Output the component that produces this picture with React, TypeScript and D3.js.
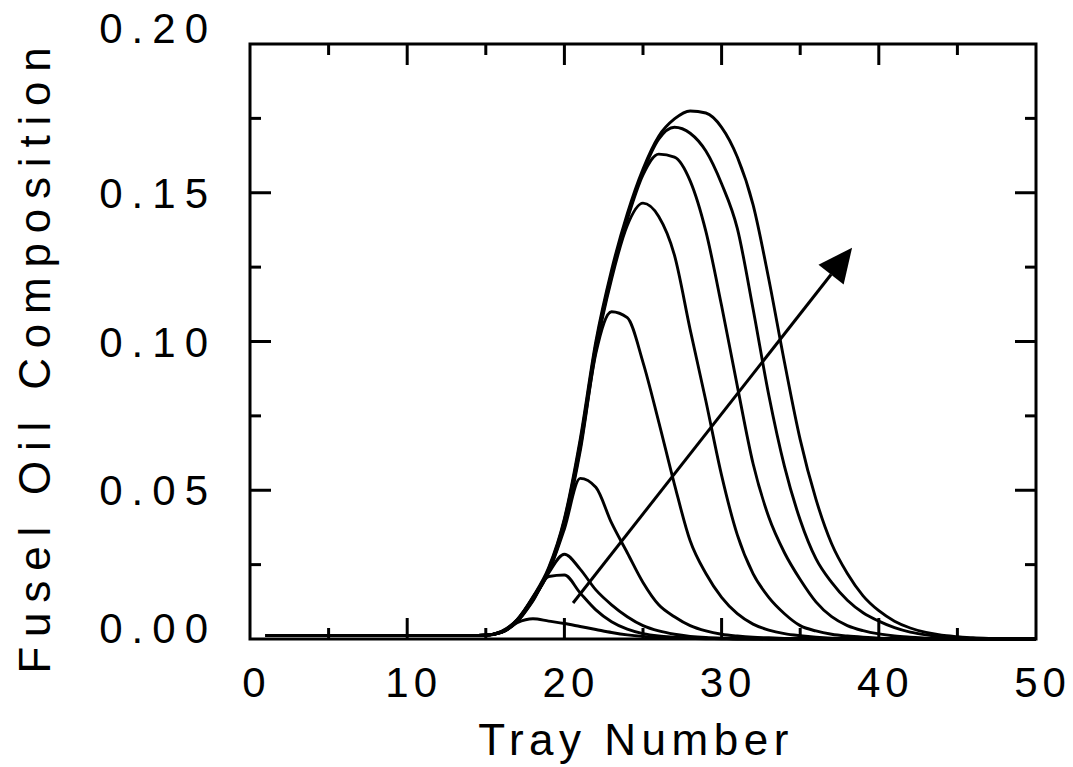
import React from "react";
import * as d3 from "d3";

// Tray numbers 1..50
const trays = d3.range(1, 51);

// Fusel oil composition profiles (trays 1..50), successive times
const c1 = [0.0012,0.0012,0.0012,0.0012,0.0012,0.0012,0.0012,0.0012,0.0012,0.0012,0.0012,0.0012,0.0012,0.0012,0.0013,
  0.0022,0.0055,0.0068,0.006,0.0052,0.0042,0.0032,0.0022,0.0014,0.0009,0.0006,0.0004,0.0002,0.0001,0.0001,
  0,0,0,0,0,0,0,0,0,0,0,0,0,0,0,0,0,0,0,0];
const c2 = [0.0012,0.0012,0.0012,0.0012,0.0012,0.0012,0.0012,0.0012,0.0012,0.0012,0.0012,0.0012,0.0012,0.0012,0.0013,
  0.0022,0.0058,0.0128,0.021,0.0215,0.0155,0.0098,0.0058,0.0033,0.0018,0.001,0.0006,0.0003,0.0002,0.0001,
  0,0,0,0,0,0,0,0,0,0,0,0,0,0,0,0,0,0,0,0];
const c3 = [0.0012,0.0012,0.0012,0.0012,0.0012,0.0012,0.0012,0.0012,0.0012,0.0012,0.0012,0.0012,0.0012,0.0012,0.0013,
  0.0022,0.006,0.013,0.0222,0.0285,0.0235,0.0165,0.0115,0.0075,0.0045,0.0027,0.0016,0.0009,0.0005,0.0003,
  0.0002,0.0001,0,0,0,0,0,0,0,0,0,0,0,0,0,0,0,0,0,0];
const c4 = [0.0012,0.0012,0.0012,0.0012,0.0012,0.0012,0.0012,0.0012,0.0012,0.0012,0.0012,0.0012,0.0012,0.0012,0.0013,
  0.0023,0.0061,0.0133,0.0225,0.037,0.054,0.051,0.039,0.029,0.019,0.0115,0.0075,0.0045,0.0027,0.0016,
  0.001,0.0006,0.0004,0.0002,0.0001,0,0,0,0,0,0,0,0,0,0,0,0,0,0,0];
const c5 = [0.0012,0.0012,0.0012,0.0012,0.0012,0.0012,0.0012,0.0012,0.0012,0.0012,0.0012,0.0012,0.0012,0.0012,0.0013,
  0.0023,0.0062,0.0135,0.0228,0.0385,0.063,0.096,0.11,0.108,0.093,0.073,0.052,0.033,0.022,0.014,
  0.0085,0.005,0.003,0.0018,0.0011,0.0006,0.0003,0.0002,0.0001,0,0,0,0,0,0,0,0,0,0,0];
const c6 = [0.0012,0.0012,0.0012,0.0012,0.0012,0.0012,0.0012,0.0012,0.0012,0.0012,0.0012,0.0012,0.0012,0.0012,0.0013,
  0.0024,0.0063,0.0137,0.023,0.039,0.064,0.097,0.121,0.139,0.1465,0.142,0.129,0.104,0.08,0.055,
  0.035,0.022,0.014,0.0085,0.0045,0.0027,0.0016,0.001,0.0006,0.0003,0.0002,0.0001,0,0,0,0,0,0,0,0];
const c7 = [0.0012,0.0012,0.0012,0.0012,0.0012,0.0012,0.0012,0.0012,0.0012,0.0012,0.0012,0.0012,0.0012,0.0012,0.0013,
  0.0024,0.0064,0.0139,0.0233,0.0395,0.065,0.098,0.122,0.141,0.156,0.163,0.162,0.154,0.137,0.112,
  0.085,0.059,0.041,0.029,0.02,0.0125,0.0075,0.0045,0.0028,0.0017,0.001,0.0006,0.0003,0.0002,0.0001,0,0,0,0,0];
const c8 = [0.0012,0.0012,0.0012,0.0012,0.0012,0.0012,0.0012,0.0012,0.0012,0.0012,0.0012,0.0012,0.0012,0.0012,0.0013,
  0.0025,0.0065,0.014,0.0236,0.04,0.066,0.099,0.123,0.142,0.157,0.168,0.172,0.17,0.164,0.153,
  0.138,0.111,0.082,0.058,0.04,0.027,0.019,0.013,0.0088,0.006,0.0038,0.0023,0.0014,0.0008,0.0004,0.0002,0.0001,0,0,0];
const c9 = [0.0012,0.0012,0.0012,0.0012,0.0012,0.0012,0.0012,0.0012,0.0012,0.0012,0.0012,0.0012,0.0012,0.0012,0.0013,
  0.0026,0.0066,0.0142,0.024,0.0405,0.067,0.1,0.124,0.143,0.158,0.169,0.1748,0.1775,0.1768,0.172,
  0.162,0.146,0.121,0.093,0.067,0.047,0.032,0.022,0.0145,0.0095,0.006,0.0037,0.0022,0.0013,0.0008,0.0004,0.0002,0.0001,0,0];

const series = [c1, c2, c3, c4, c5, c6, c7, c8, c9];

// Arrow (direction of increasing time): [tray, composition]
const arrowStart = [20.55, 0.0121];
const arrowEnd = [38.3, 0.1315];

// Axes
const xTickValues = [0, 10, 20, 30, 40, 50];
const xTickLabels = ["0", "10", "20", "30", "40", "50"];
const xMajor = [10, 20, 30, 40];
const xMinor = [5, 15, 25, 35, 45];
const yTickValues = [0, 0.05, 0.1, 0.15, 0.2];
const yTickLabels = ["0.00", "0.05", "0.10", "0.15", "0.20"];
const yMajor = [0.05, 0.1, 0.15];
const yMinor = [0.025, 0.075, 0.125, 0.175];

const xTitle = "Tray Number";
const yTitle = "Fusel Oil Composition";

export default function App() {
  const W = 1073, H = 767;
  const x = d3.scaleLinear().domain([0, 50]).range([250, 1036]);
  const y = d3.scaleLinear().domain([0, 0.2]).range([639, 44]);
  const [x0, x1] = x.range();
  const [y0, y1] = y.range();
  const line = d3
    .line<number>()
    .x((_, i) => x(trays[i]))
    .y((d) => y(d))
    .curve(d3.curveMonotoneX);

  const font = "'Liberation Sans', Arial, sans-serif";
  const majorLen = 21, minorLen = 11;

  // arrow geometry
  const ax0 = x(arrowStart[0]), ay0 = y(arrowStart[1]);
  const ax1 = x(arrowEnd[0]), ay1 = y(arrowEnd[1]);
  const len = Math.hypot(ax1 - ax0, ay1 - ay0);
  const ux = (ax1 - ax0) / len, uy = (ay1 - ay0) / len;
  const headL = 34, headW = 16;
  const bx = ax1 - ux * headL, by = ay1 - uy * headL;
  const head = `${ax1},${ay1} ${bx - uy * headW},${by + ux * headW} ${bx + uy * headW},${by - ux * headW}`;

  const yLabelDy = (v: number) => (v === 0.2 ? -1 : v === 0 ? 4 : 15);

  return (
    <svg
      width={W}
      height={H}
      style={{ position: "absolute", left: 0, top: 0, background: "#fff" }}
    >
      <rect x={0} y={0} width={W} height={H} fill="#fff" />
      {/* curves */}
      <g fill="none" stroke="#000" strokeWidth={2.9} strokeLinejoin="round">
        {series.map((s, i) => (
          <path key={i} d={line(s) || ""} />
        ))}
      </g>
      {/* arrow */}
      <line x1={ax0} y1={ay0} x2={bx} y2={by} stroke="#000" strokeWidth={3} />
      <polygon points={head} fill="#000" />
      {/* frame */}
      <rect x={x0} y={y1} width={x1 - x0} height={y0 - y1} fill="none" stroke="#000" strokeWidth={3} />
      {/* ticks */}
      <g stroke="#000" strokeWidth={3}>
        {xMajor.map((v) => (
          <g key={"xM" + v}>
            <line x1={x(v)} x2={x(v)} y1={y0} y2={y0 - majorLen} />
            <line x1={x(v)} x2={x(v)} y1={y1} y2={y1 + majorLen} />
          </g>
        ))}
        {xMinor.map((v) => (
          <g key={"xm" + v}>
            <line x1={x(v)} x2={x(v)} y1={y0} y2={y0 - minorLen} />
            <line x1={x(v)} x2={x(v)} y1={y1} y2={y1 + minorLen} />
          </g>
        ))}
        {yMajor.map((v) => (
          <g key={"yM" + v}>
            <line x1={x0} x2={x0 + majorLen} y1={y(v)} y2={y(v)} />
            <line x1={x1} x2={x1 - majorLen} y1={y(v)} y2={y(v)} />
          </g>
        ))}
        {yMinor.map((v) => (
          <g key={"ym" + v}>
            <line x1={x0} x2={x0 + minorLen} y1={y(v)} y2={y(v)} />
            <line x1={x1} x2={x1 - minorLen} y1={y(v)} y2={y(v)} />
          </g>
        ))}
      </g>
      {/* tick labels */}
      <g fontFamily={font} fontSize={42} fill="#000">
        {xTickValues.map((v, i) => (
          <text key={"xl" + v} x={x(v) + 4 + 2.5} y={697} textAnchor="middle" letterSpacing={5}>
            {xTickLabels[i]}
          </text>
        ))}
        {yTickValues.map((v, i) => (
          <text key={"yl" + v} x={208 + 9} y={y(v) + yLabelDy(v)} textAnchor="end" letterSpacing={9}>
            {yTickLabels[i]}
          </text>
        ))}
      </g>
      {/* titles */}
      <text
        x={636}
        y={755}
        textAnchor="middle"
        fontFamily={font}
        fontSize={44}
        letterSpacing={5.5}
      >
        {xTitle}
      </text>
      <text
        transform={`translate(50, ${(y0 + y1) / 2 + 14}) rotate(-90)`}
        textAnchor="middle"
        fontFamily={font}
        fontSize={44}
        letterSpacing={9.8}
      >
        {yTitle}
      </text>
    </svg>
  );
}
